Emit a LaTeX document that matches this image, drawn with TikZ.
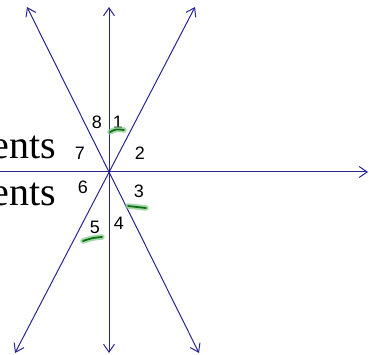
\documentclass[tikz,border=0pt]{standalone}
\usepackage{fontspec}
\setmainfont{Liberation Serif}
\newfontfamily\digitfont{Liberation Sans}
\usetikzlibrary{arrows.meta}
\definecolor{axisblue}{RGB}{38,38,145}
\definecolor{markgreen}{RGB}{20,150,30}
\tikzset{
  axis/.style     = {axisblue, line width=1pt,
                     arrows={Straight Barb[length=8pt,width=11pt]-Straight Barb[length=8pt,width=11pt]}},
  ray/.style      = {axisblue, line width=1pt, -{Straight Barb[length=8pt,width=11pt]}},
  anglab/.style   = {font=\digitfont\fontsize{18}{18}\selectfont, inner sep=0pt},
  wordlab/.style  = {font=\fontsize{40}{40}\selectfont, inner sep=0pt, anchor=base east},
  hilite/.style   = {markgreen!50, line width=5.5pt, line cap=round, opacity=0.75},
  hilitecore/.style = {markgreen!75!black, line width=1.8pt, line cap=round},
}
\begin{document}
\begin{tikzpicture}[x=1pt,y=-1pt]
  \useasboundingbox (0,0) rectangle (369,355);
  % words cut off at the left edge
  \node[wordlab] (w1) at (56,159) {ents};
  \node[wordlab] (w2) at (56,206) {ents};
  % lines through the centre
  \coordinate (O)  at (109,172);
  \coordinate (vt) at (109,7);
  \coordinate (vb) at (109,353);
  \coordinate (hl) at (0,172);
  \coordinate (hr) at (368,172);
  \coordinate (at) at (27,7);
  \coordinate (ab) at (199,353);
  \coordinate (bt) at (195,7);
  \coordinate (bb) at (15,353);
  \draw[axis] (vb) -- (vt);
  \draw[ray] (hl) -- (hr);
  \draw[axis] (ab) -- (at);
  \draw[axis] (bb) -- (bt);
  % angle numbers
  \node[anglab] (l1) at (118,122) {1};
  \node[anglab] (l2) at (140,153) {2};
  \node[anglab] (l3) at (139,191) {3};
  \node[anglab] (l4) at (119,223) {4};
  \node[anglab] (l5) at (95,227) {5};
  \node[anglab] (l6) at (83,187) {6};
  \node[anglab] (l7) at (80,153) {7};
  \node[anglab] (l8) at (97,122) {8};
  % green marks under 1, 3 and 5
  \foreach \s in {hilite,hilitecore}{
    \draw[\s] (110,132) .. controls (116,129) .. (124,130);
    \draw[\s] (128,206) .. controls (137,207) .. (146,208);
    \draw[\s] (83,241) .. controls (92,238) .. (102,237);
  }
\end{tikzpicture}
\end{document}
